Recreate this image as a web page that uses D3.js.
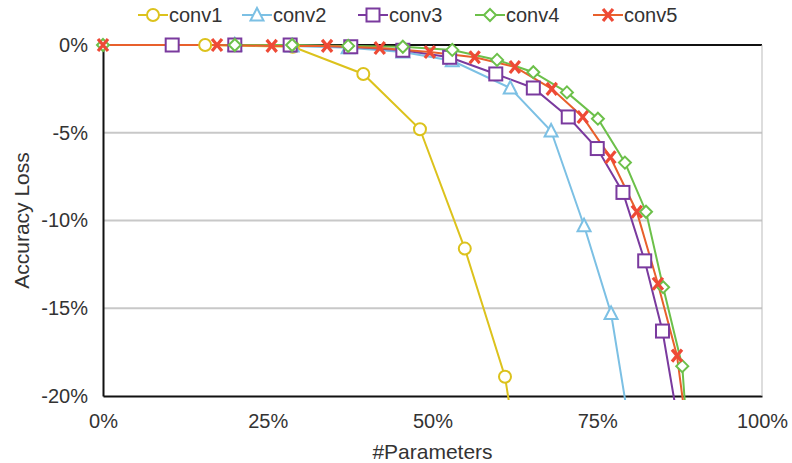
<!DOCTYPE html>
<html>
<head>
<meta charset="utf-8">
<script src="https://cdn.jsdelivr.net/npm/d3@7"></script>
<style>
  body { margin: 0; background: #fff; }
  text { font-family: "Liberation Sans", Arial, sans-serif; fill: #333; }
</style>
</head>
<body>
<div id="container"></div>
<script>
/* CONSTANTS AND GLOBALS */
const width = 792;
const height = 463;
const margin = {top: 45, right: 30, bottom: 67, left: 103};

/* DATA */
const seriesNames = ["conv1", "conv2", "conv3", "conv4", "conv5"];
const conv1X = [15.5, 28.8, 39.5, 48.1, 54.9, 61.0, 62.3];
const conv1Y = [0, -0.1, -1.65, -4.8, -11.6, -18.9, -22];
const conv2X = [20, 28.7, 37.2, 45.5, 53, 61.8, 68, 73, 77.1, 80];
const conv2Y = [0, -0.05, -0.15, -0.4, -0.9, -2.45, -4.9, -10.3, -15.3, -22];
const conv3X = [10.5, 20, 28.4, 37.6, 45.5, 52.6, 59.6, 65.3, 70.6, 75, 78.9, 82.2, 84.9, 87.5];
const conv3Y = [0, 0, 0, -0.1, -0.3, -0.7, -1.65, -2.45, -4.1, -5.9, -8.4, -12.3, -16.3, -22];
const conv4X = [0, 20, 28.7, 37.2, 45.5, 53, 59.8, 65.3, 70.4, 75.1, 79.2, 82.4, 85.0, 87.9, 88.6];
const conv4Y = [0, 0, 0, -0.05, -0.1, -0.28, -0.85, -1.55, -2.7, -4.2, -6.7, -9.5, -13.8, -18.3, -22];
const conv5X = [0, 17.3, 25.6, 34, 42, 49.6, 56.4, 62.5, 68.1, 72.8, 77, 81, 84.2, 87.1, 88.6];
const conv5Y = [0, 0, -0.05, -0.05, -0.17, -0.4, -0.7, -1.25, -2.5, -4.1, -6.4, -9.5, -13.6, -17.7, -22];
const xTicks = [0, 25, 50, 75, 100];
const yTicks = [0, -5, -10, -15, -20];

const colors = ["#dcc21c", "#7cc0e4", "#7a3a9e", "#6cc04a", "#ee4a36"];
const lineColors = ["#dcc21c", "#7cc0e4", "#7a3a9e", "#6cc04a", "#e8602c"];
const shapes = ["circle", "triangle", "square", "diamond", "cross"];

const series = [
  {name: seriesNames[0], xs: conv1X, ys: conv1Y},
  {name: seriesNames[1], xs: conv2X, ys: conv2Y},
  {name: seriesNames[2], xs: conv3X, ys: conv3Y},
  {name: seriesNames[3], xs: conv4X, ys: conv4Y},
  {name: seriesNames[4], xs: conv5X, ys: conv5Y}
].map((s, i) => ({...s, i, pts: s.xs.map((x, k) => ({x, y: s.ys[k]}))}));

/* SCALES */
const xScale = d3.scaleLinear().domain([0, 100]).range([margin.left, width - margin.right]);
const yScale = d3.scaleLinear().domain([-20, 0]).range([height - margin.bottom, margin.top]);

const svg = d3.select("#container").append("svg")
  .attr("width", width).attr("height", height);

svg.append("defs").append("clipPath").attr("id", "plot")
  .append("rect")
  .attr("x", margin.left - 10).attr("y", margin.top - 10)
  .attr("width", width - margin.left - margin.right + 20)
  .attr("height", height - margin.top - margin.bottom + 14);

// grid
svg.append("g")
  .selectAll("line").data(yTicks.filter(d => d !== 0 && d !== -20)).join("line")
  .attr("x1", xScale(0)).attr("x2", xScale(100))
  .attr("y1", d => yScale(d)).attr("y2", d => yScale(d))
  .attr("stroke", "#c8c8c8").attr("stroke-width", 2);

// axes
const yAxis = svg.append("g")
  .attr("transform", `translate(${margin.left},0)`)
  .call(d3.axisLeft(yScale).tickValues(yTicks).tickSize(0).tickPadding(15).tickFormat(d => d + "%"));
const xAxis = svg.append("g")
  .attr("transform", `translate(0,${height - margin.bottom})`)
  .call(d3.axisBottom(xScale).tickValues(xTicks).tickSize(0).tickPadding(18).tickFormat(d => d + "%"));
[xAxis, yAxis].forEach(a => {
  a.select(".domain").attr("stroke", "#111").attr("stroke-width", 2);
  a.selectAll("text").style("font-size", "20px").attr("fill", "#333");
});
// top and right frame
svg.append("line").attr("x1", xScale(0)).attr("x2", xScale(100))
  .attr("y1", yScale(0)).attr("y2", yScale(0)).attr("stroke", "#111").attr("stroke-width", 2);
svg.append("line").attr("x1", xScale(100)).attr("x2", xScale(100))
  .attr("y1", yScale(0)).attr("y2", yScale(-20)).attr("stroke", "#bbb").attr("stroke-width", 1);

// titles
svg.append("text").attr("x", (xScale(0) + xScale(100)) / 2).attr("y", 459)
  .attr("text-anchor", "middle").style("font-size", "21px").text("#Parameters");
svg.append("text")
  .attr("transform", `translate(29,${(yScale(0) + yScale(-20)) / 2}) rotate(-90)`)
  .attr("text-anchor", "middle").style("font-size", "21px").text("Accuracy Loss");

/* MARKERS */
function drawMarker(g, shape, color) {
  if (shape === "circle") {
    g.append("circle").attr("r", 6).attr("fill", "#fff").attr("stroke", color).attr("stroke-width", 2);
  } else if (shape === "triangle") {
    g.append("path").attr("d", "M0,-7L6.5,5.5L-6.5,5.5Z").attr("fill", "#fff").attr("stroke", color).attr("stroke-width", 2);
  } else if (shape === "square") {
    g.append("rect").attr("x", -6.5).attr("y", -6.5).attr("width", 13).attr("height", 13)
      .attr("fill", "#fff").attr("stroke", color).attr("stroke-width", 2);
  } else if (shape === "diamond") {
    g.append("path").attr("d", "M0,-6L6,0L0,6L-6,0Z").attr("fill", "#fff").attr("stroke", color).attr("stroke-width", 2);
  } else {
    g.append("path").attr("d", "M-5,-6L5,6M5,-6L-5,6").attr("stroke", color).attr("stroke-width", 3.2);
  }
}

const line = d3.line().x(d => xScale(d.x)).y(d => yScale(d.y));
const plot = svg.append("g").attr("clip-path", "url(#plot)");

series.forEach(s => {
  plot.append("path").datum(s.pts)
    .attr("d", line).attr("fill", "none")
    .attr("stroke", lineColors[s.i]).attr("stroke-width", 2);
});
series.forEach(s => {
  plot.selectAll(null).data(s.pts.filter(d => d.y >= -20)).join("g")
    .attr("transform", d => `translate(${xScale(d.x)},${yScale(d.y)})`)
    .each(function() { drawMarker(d3.select(this), shapes[s.i], colors[s.i]); });
});

/* LEGEND */
const legendX = [153, 257, 373, 490, 608];
const legend = svg.append("g");
series.forEach(s => {
  const g = legend.append("g").attr("transform", `translate(${legendX[s.i]},15)`);
  g.append("line").attr("x1", -15).attr("x2", 15).attr("stroke", lineColors[s.i]).attr("stroke-width", 2);
  drawMarker(g, shapes[s.i], colors[s.i]);
  g.append("text").attr("x", 16).attr("y", 7).style("font-size", "20px").text(s.name);
});
</script>
</body>
</html>
